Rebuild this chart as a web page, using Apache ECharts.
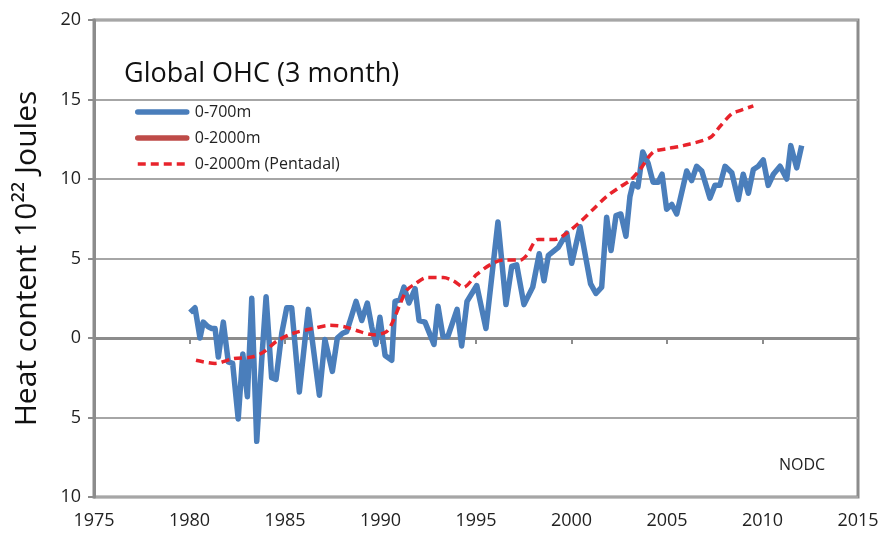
<!DOCTYPE html>
<html>
<head>
<meta charset="utf-8">
<script src="https://cdn.jsdelivr.net/npm/echarts@6/dist/echarts.min.js"></script>
<style>
  html, body { margin: 0; padding: 0; background: #fff; }
  #container { width: 883px; height: 539px; }
</style>
</head>
<body>
<div id="container"></div>
<script>
// 0-700m, 3 month values [year, 10^22 J]
var ohc700 = [
    [1980.03, 1.6], [1980.29, 1.9], [1980.55, 0.0], [1980.72, 1.0], [1980.98, 0.7],
    [1981.16, 0.6], [1981.34, 0.6], [1981.51, -1.2], [1981.77, 1.0], [1982.03, -1.5],
    [1982.26, -1.6], [1982.55, -5.1], [1982.79, -1.0], [1983.03, -3.7], [1983.26, 2.5],
    [1983.52, -6.5], [1983.78, -1.4], [1984.01, 2.6], [1984.30, -2.5], [1984.53, -2.6],
    [1984.83, 0.3], [1985.09, 1.9], [1985.35, 1.9], [1985.75, -3.4], [1986.22, 1.8],
    [1986.80, -3.6], [1987.09, -0.1], [1987.48, -2.1], [1987.74, 0.0], [1988.02, 0.3],
    [1988.23, 0.4], [1988.44, 1.2], [1988.72, 2.3], [1989.02, 1.1], [1989.31, 2.2],
    [1989.54, 0.7], [1989.76, -0.4], [1989.97, 1.3], [1990.24, -1.1], [1990.59, -1.4],
    [1990.76, 2.3], [1991.02, 2.4], [1991.23, 3.2], [1991.49, 2.2], [1991.81, 3.1],
    [1992.02, 1.1], [1992.33, 1.0], [1992.80, -0.4], [1993.01, 2.0], [1993.27, 0.1],
    [1993.53, 0.1], [1994.01, 1.8], [1994.25, -0.5], [1994.53, 2.3], [1995.04, 3.3],
    [1995.52, 0.6], [1996.15, 7.3], [1996.57, 2.1], [1996.87, 4.5], [1997.13, 4.6],
    [1997.51, 2.1], [1997.97, 3.2], [1998.31, 5.3], [1998.56, 3.6], [1998.79, 5.2],
    [1999.31, 5.7], [1999.75, 6.6], [2000.01, 4.7], [2000.45, 7.0], [2001.00, 3.4],
    [2001.28, 2.8], [2001.58, 3.2], [2001.84, 7.6], [2002.07, 5.5], [2002.33, 7.7],
    [2002.58, 7.8], [2002.85, 6.4], [2003.06, 8.9], [2003.22, 9.7], [2003.48, 9.5],
    [2003.73, 11.7], [2004.01, 11.0], [2004.27, 9.8], [2004.53, 9.8], [2004.74, 10.3],
    [2004.98, 8.1], [2005.25, 8.4], [2005.51, 7.8], [2006.03, 10.5], [2006.29, 9.9],
    [2006.55, 10.8], [2006.82, 10.5], [2007.25, 8.8], [2007.51, 9.6], [2007.77, 9.6],
    [2008.04, 10.8], [2008.39, 10.4], [2008.73, 8.7], [2008.99, 10.3], [2009.26, 9.1],
    [2009.52, 10.6], [2009.78, 10.8], [2010.04, 11.2], [2010.30, 9.6], [2010.57, 10.3],
    [2010.92, 10.8], [2011.27, 10.0], [2011.48, 12.1], [2011.79, 10.7], [2012.05, 12.1]
];

// 0-2000m 3 month (legend only in the picture)
var ohc2000 = [];

// 0-2000m pentadal
var ohc2000Pent = [
    [1980.34, -1.4], [1981.34, -1.6], [1982.29, -1.3], [1983.26, -1.2], [1983.86, -0.9],
    [1984.57, -0.2], [1985.43, 0.3], [1986.48, 0.6], [1987.36, 0.8], [1988.14, 0.7],
    [1988.93, 0.4], [1989.62, 0.2], [1990.32, 0.4], [1990.67, 1.1], [1990.98, 2.0],
    [1991.37, 3.0], [1991.81, 3.4], [1992.42, 3.8], [1993.29, 3.8], [1993.81, 3.6],
    [1994.34, 3.2], [1995.04, 4.0], [1995.73, 4.6], [1996.43, 4.9], [1997.30, 4.9],
    [1997.65, 5.2], [1998.26, 6.2], [1999.14, 6.2], [1999.75, 6.6], [2000.45, 7.3],
    [2001.14, 8.1], [2001.84, 8.9], [2002.54, 9.5], [2003.06, 9.9], [2003.59, 10.6],
    [2004.28, 11.7], [2004.98, 11.9], [2005.85, 12.1], [2007.25, 12.6], [2007.77, 13.3],
    [2008.39, 14.1], [2008.82, 14.3], [2009.52, 14.6]
];

// y tick labels as printed (no minus sign below zero)
var yTickValues = [-10, -5, 0, 5, 10, 15, 20];
var yTickLabels = ['10', '5', '0', '5', '10', '15', '20'];

var blue = '#4a7ebb', brown = '#be4b48', red = '#e8232b';

var dom = document.getElementById("container");
var myChart = echarts.init(dom, null, {renderer: 'canvas'});

var option = {
    animation: false,
    backgroundColor: '#fff',
    textStyle: { fontFamily: 'Open Sans' },
    title: {
        text: 'Global OHC (3 month)',
        left: 119,
        top: 56,
        textStyle: { fontSize: 27, fontWeight: 'normal', color: '#111', fontFamily: 'Open Sans' }
    },
    legend: {
        data: [
            { name: '0-700m', lineStyle: { width: 5.5, cap: 'round' } },
            { name: '0-2000m', lineStyle: { width: 5.5, cap: 'round' } },
            { name: '0-2000m (Pentadal)', lineStyle: { width: 3.5 } }
        ],
        orient: 'vertical',
        left: 130,
        top: 99,
        itemWidth: 49,
        itemHeight: 14,
        itemGap: 10,
        itemStyle: { opacity: 0 },
        textStyle: { fontSize: 16, color: '#222', fontFamily: 'Open Sans', padding: [0, 0, 0, 3] }
    },
    grid: {
        left: 94,
        right: 25,
        top: 20,
        bottom: 42,
        show: true,
        borderColor: '#8c8c8c',
        borderWidth: 3
    },
    xAxis: {
        type: 'value',
        min: 1975,
        max: 2015,
        interval: 5,
        axisLine: { lineStyle: { color: '#8c8c8c', width: 3 } },
        axisTick: { show: true, length: 6, lineStyle: { color: '#8c8c8c', width: 2 } },
        axisLabel: {
            fontSize: 18, color: '#222', margin: 15, fontFamily: 'Open Sans',
            formatter: function (v) { return String(v); }
        },
        splitLine: { show: false }
    },
    yAxis: {
        type: 'value',
        min: -10,
        max: 20,
        interval: 5,
        name: 'Heat content 10²² Joules',
        nameLocation: 'middle',
        nameRotate: 90,
        nameGap: 52,
        nameTextStyle: { fontSize: 30, color: '#111', fontFamily: 'Open Sans' },
        axisLine: { show: true, lineStyle: { color: '#8c8c8c', width: 3 } },
        axisTick: { show: true, length: 6, lineStyle: { color: '#8c8c8c', width: 2 } },
        axisLabel: {
            fontSize: 18,
            color: '#222',
            margin: 13,
            fontFamily: 'Open Sans',
            formatter: function (v) {
                var i = yTickValues.indexOf(v);
                return i >= 0 ? yTickLabels[i] : '';
            }
        },
        splitLine: { show: true, lineStyle: { color: '#a6a6a6', width: 2 } }
    },
    graphic: [
        {
            type: 'text',
            left: 779,
            top: 457,
            style: { text: 'NODC', fontSize: 16, fill: '#222', fontFamily: 'Open Sans' }
        }
    ],
    series: [
        {
            name: '0-700m',
            type: 'line',
            data: ohc700,
            symbol: 'none',
            color: blue,
            lineStyle: { width: 5.5, color: blue, join: 'round' },
            z: 2
        },
        {
            name: '0-2000m',
            type: 'line',
            data: ohc2000,
            symbol: 'none',
            color: brown,
            lineStyle: { width: 5.5, color: brown }
        },
        {
            name: '0-2000m (Pentadal)',
            type: 'line',
            data: ohc2000Pent,
            symbol: 'none',
            smooth: 0.3,
            color: red,
            lineStyle: { width: 3.5, color: red, type: [8, 5] },
            z: 3
        }
    ]
};

if (option && typeof option === "object") {
    myChart.setOption(option, true);
}
</script>
</body>
</html>
